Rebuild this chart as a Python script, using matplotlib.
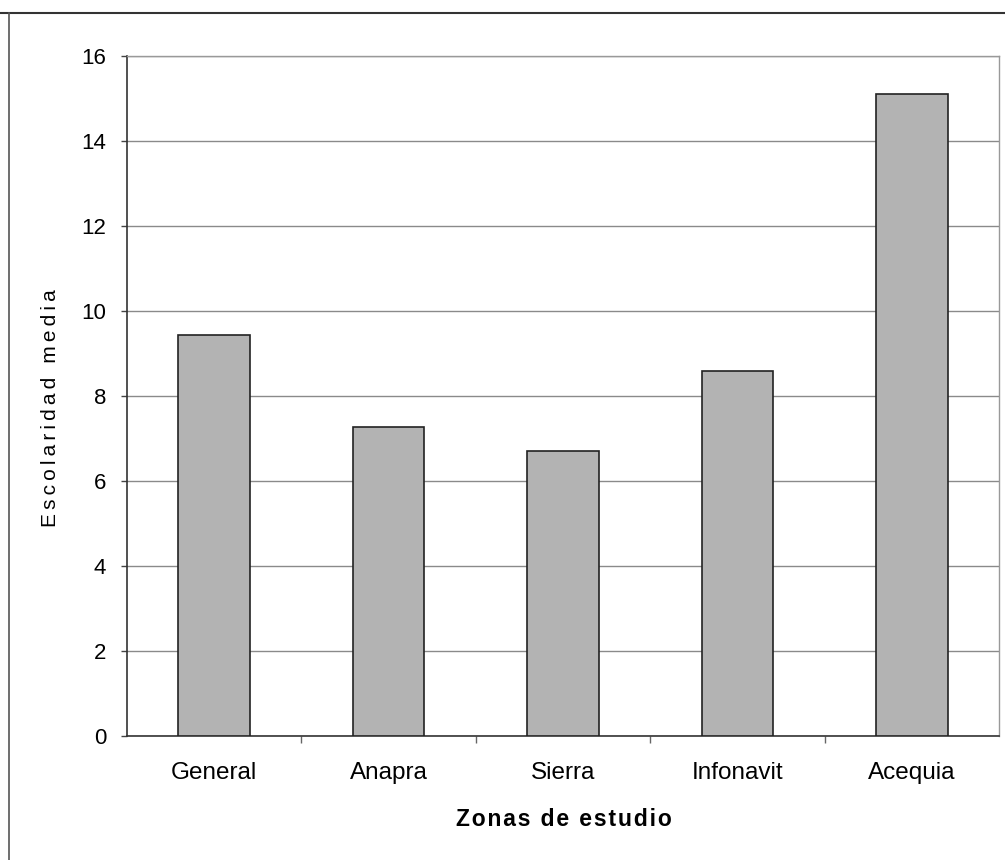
import matplotlib
matplotlib.use('Agg')
import matplotlib.pyplot as plt
from matplotlib.lines import Line2D
import numpy as np

plt.rcParams['font.family'] = ['Liberation Sans', 'DejaVu Sans']

# Daten
zonas = ['General', 'Anapra', 'Sierra', 'Infonavit', 'Acequia']
escolaridad = [9.43, 7.28, 6.71, 8.59, 15.11]


def gesperrt(text, sep):
    # Buchstaben mit kleinen Leerzeichen sperren (wie im Original)
    return sep.join(text)


fig = plt.figure(figsize=(10.05, 8.6), dpi=100)
ax = fig.add_axes([0.1264, 0.1442, 0.8676, 0.7907])

x = np.arange(len(zonas))
ax.bar(x, escolaridad, width=0.41, color='#b3b3b3', edgecolor='#222222', linewidth=1.2, zorder=3)

ax.set_xlim(-0.5, len(zonas) - 0.5)
ax.set_ylim(0, 16)
ax.set_yticks(np.arange(0, 17, 2))
ax.set_xticks(x)
ax.set_xticklabels(zonas, fontsize=17.5)
ax.tick_params(axis='y', labelsize=16, length=4, width=1, color='#444444', pad=11)
ax.tick_params(axis='x', length=0, pad=19)

# Trennstriche zwischen Kategorien
ax.set_xticks(np.arange(0.5, len(zonas) - 0.5, 1), minor=True)
ax.tick_params(axis='x', which='minor', length=5, width=1, color='#666666', direction='out')

ax.grid(axis='y', color='#8a8a8a', linewidth=1)
ax.set_axisbelow(True)

for s in ['left', 'bottom']:
    ax.spines[s].set_color('#333333')
    ax.spines[s].set_linewidth(1.2)
for s in ['top', 'right']:
    ax.spines[s].set_color('#999999')
    ax.spines[s].set_linewidth(1)

# Achsenbeschriftung
fig.text(51 / 1005, 1 - 408 / 860, gesperrt('Escolaridad media', '\u2009'),
         rotation=90, ha='center', va='center', fontsize=15)
fig.text(0.5612, 1 - 820 / 860, gesperrt('Zonas de estudio', '\u200a'),
         ha='center', va='center', fontsize=16.5, fontweight='bold')

# Rahmen des Originals
fig.add_artist(Line2D([0, 1], [1 - 13 / 860, 1 - 13 / 860], color='#333333', linewidth=1.5))
fig.add_artist(Line2D([9 / 1005, 9 / 1005], [0, 1 - 13 / 860], color='#555555', linewidth=1.2))

fig.savefig('out.png', dpi=100)
plt.close(fig)
